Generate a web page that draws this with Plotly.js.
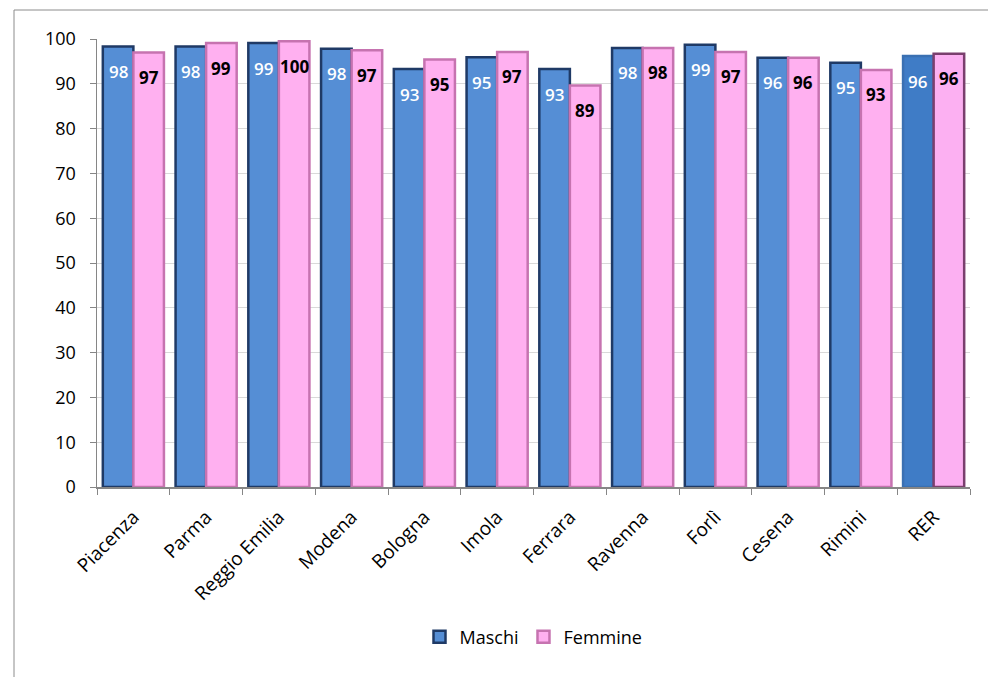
<!DOCTYPE html>
<html>
<head>
<meta charset="utf-8">
<script src="https://cdn.plot.ly/plotly-3.0.1.min.js"></script>
<style>
  html, body { margin: 0; padding: 0; background: #fff; }
  #chart { width: 988px; height: 677px; }
</style>
</head>
<body>
<div id="chart"></div>
<script>
const categories = ["Piacenza", "Parma", "Reggio Emilia", "Modena", "Bologna", "Imola", "Ferrara", "Ravenna", "Forlì", "Cesena", "Rimini", "RER"];
const maschi = [98.3, 98.3, 99.1, 97.8, 93.3, 95.9, 93.3, 98.0, 98.7, 95.8, 94.7, 96.2];
const femmine = [97.0, 99.1, 99.5, 97.5, 95.4, 97.1, 89.6, 98.0, 97.1, 95.8, 93.1, 96.7];
const maschiLabels = ["98", "98", "99", "98", "93", "95", "93", "98", "99", "96", "95", "96"];
const femmineLabels = ["97", "99", "100", "97", "95", "97", "89", "98", "97", "96", "93", "96"];

const n = categories.length;
const bargap = 0.16;
const half = (1 - bargap) / 4;
const FONT = "Open Sans, Noto Sans, sans-serif";

const mFill = categories.map((c, i) => i === n - 1 ? "#3F7CC6" : "#558ED5");
const mLine = categories.map((c, i) => i === n - 1 ? "#3A70B2" : "#1F3A66");
const fFill = categories.map((c, i) => i === n - 1 ? "#FCB0F2" : "#FFB0F0");
const fLine = categories.map((c, i) => i === n - 1 ? "#7A3F6E" : "#C673B0");

const traces = [
  {
    type: "bar", name: "Maschi", x: categories, y: maschi,
    marker: { color: mFill, line: { color: mLine, width: 2.5 } },
    hoverinfo: "skip"
  },
  {
    type: "bar", name: "Femmine", x: categories, y: femmine,
    marker: { color: fFill, line: { color: fLine, width: 2.5 } },
    hoverinfo: "skip"
  }
];

const annotations = [];
categories.forEach((c, i) => {
  annotations.push({
    x: i - half, y: maschi[i], xref: "x", yref: "y", text: maschiLabels[i],
    showarrow: false, yshift: -25,
    font: { family: FONT, size: 17, color: "#ffffff", weight: 600 }
  });
  annotations.push({
    x: i + half, y: femmine[i], xref: "x", yref: "y", text: femmineLabels[i],
    showarrow: false, yshift: -25,
    font: { family: FONT, size: 17, color: "#000000", weight: 700 }
  });
});

const layout = {
  width: 988, height: 677,
  margin: { l: 97, r: 18, t: 39, b: 190 },
  paper_bgcolor: "#ffffff", plot_bgcolor: "#ffffff",
  barmode: "group", bargap: bargap, bargroupgap: 0,
  font: { family: FONT, color: "#000000" },
  showlegend: true,
  legend: {
    orientation: "h", x: 0.5, xanchor: "center", y: -0.335, yanchor: "middle",
    font: { family: FONT, size: 18, color: "#000000" }, traceorder: "normal"
  },
  xaxis: {
    type: "category", tickangle: -45,
    tickfont: { family: FONT, size: 19, color: "#000000" },
    ticklabelstandoff: 10,
    showline: true, linecolor: "#868686", linewidth: 1.5,
    ticks: "outside", tickson: "boundaries", ticklen: 6, tickcolor: "#868686",
    showgrid: false, zeroline: false, range: [-0.5, n - 0.5]
  },
  yaxis: {
    range: [0, 100], dtick: 10, tick0: 0,
    tickfont: { family: FONT, size: 18, color: "#000000" },
    ticklabelstandoff: 10,
    showline: true, linecolor: "#868686", linewidth: 1.5,
    ticks: "outside", ticklen: 6, tickcolor: "#868686",
    showgrid: true, gridcolor: "#D9D9D9", gridwidth: 1, zeroline: false
  },
  annotations: annotations,
  shapes: [{
    type: "rect", xref: "paper", yref: "paper",
    x0: (14 - 97) / 873, x1: 1.2, y0: -0.6, y1: (487 - 10) / 448,
    line: { color: "#8C8C8C", width: 1 }, fillcolor: "rgba(0,0,0,0)", layer: "below"
  }]
};

Plotly.newPlot("chart", traces, layout, { displayModeBar: false, staticPlot: true });
</script>
</body>
</html>
